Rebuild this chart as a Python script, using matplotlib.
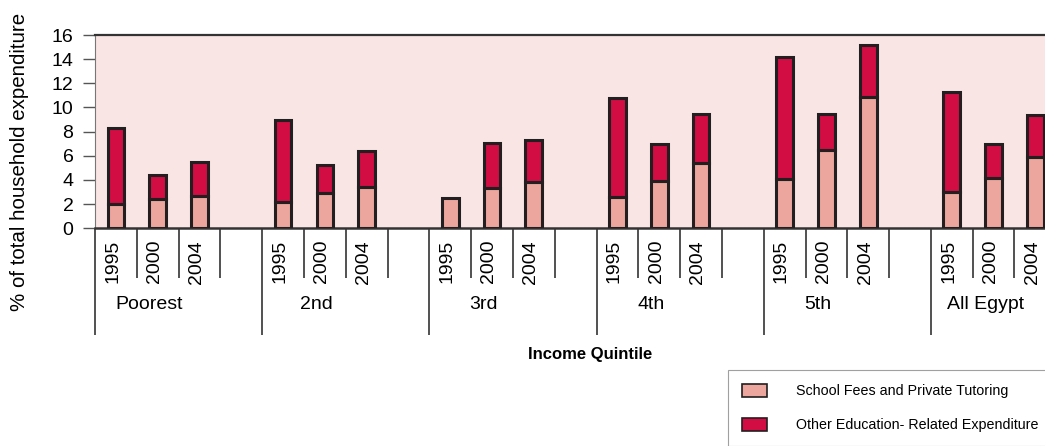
import matplotlib.pyplot as plt
from matplotlib.patches import Patch
from matplotlib.transforms import blended_transform_factory

plt.rcParams['font.family'] = ['Liberation Sans', 'DejaVu Sans']

quintiles = ['Poorest', '2nd', '3rd', '4th', '5th', 'All Egypt']
years = ['1995', '2000', '2004']

# % of total household expenditure, by quintile and year
fees = [
	[2.0, 2.4, 2.7],
	[2.2, 2.9, 3.4],
	[2.5, 3.3, 3.8],
	[2.6, 3.9, 5.4],
	[4.1, 6.5, 10.9],
	[3.0, 4.2, 5.9],
]
other = [
	[6.3, 2.0, 2.8],
	[6.8, 2.3, 3.0],
	[0.0, 3.8, 3.5],
	[8.2, 3.1, 4.1],
	[10.1, 3.0, 4.3],
	[8.3, 2.8, 3.5],
]

FEES_COL = '#eca69e'
OTHER_COL = '#d20d43'
EDGE = '#231f20'
SLOTS = 4  # three years plus an empty gap per quintile


def main() -> None:
	fig = plt.figure(figsize=(10.45, 4.46), dpi=100)
	ax = fig.add_axes([95 / 1045, 1 - 228.3 / 446, 1 - 95 / 1045, (228.3 - 35) / 446])
	ax.set_facecolor('#f9e5e3')

	for g in range(len(quintiles)):
		for i in range(len(years)):
			x = g * SLOTS + i + 0.5
			ax.bar(x, fees[g][i], width=0.4, color=FEES_COL, edgecolor=EDGE, linewidth=2.2, zorder=3)
			if other[g][i] > 0:
				ax.bar(x, other[g][i], bottom=fees[g][i], width=0.4, color=OTHER_COL,
					edgecolor=EDGE, linewidth=2.2, zorder=3)

	ax.set_yticks(range(0, 17, 2))
	ax.tick_params(axis='y', length=8.5, width=1, color='#555555', pad=7, labelsize=14)

	# year dividers as minor ticks, quintile dividers as long major ticks
	ax.set_xticks([g * SLOTS for g in range(len(quintiles))])
	ax.set_xticks([k for k in range(len(quintiles) * SLOTS) if k % SLOTS], minor=True)
	ax.set_xticklabels([])
	ax.tick_params(axis='x', which='major', length=77, width=1.2, color='#333333')
	ax.tick_params(axis='x', which='minor', length=36, width=1.2, color='#333333')
	ax.set_xlim(0, 22.73)
	ax.set_ylim(0, 16)

	ax.spines['right'].set_visible(False)
	ax.spines['top'].set_linewidth(1.6)
	ax.spines['top'].set_color('#333333')
	ax.spines['bottom'].set_linewidth(1.8)
	ax.spines['bottom'].set_color('#333333')
	ax.spines['left'].set_linewidth(0.8)
	ax.spines['left'].set_color('#777777')

	trans = blended_transform_factory(ax.transData, ax.transAxes)
	for g, name in enumerate(quintiles):
		for i, yr in enumerate(years):
			ax.text(g * SLOTS + i + 0.22, -0.06, yr, rotation=90, ha='left', va='top',
				fontsize=14, transform=trans)
		ax.text(g * SLOTS + 1.3, -0.395, name, ha='center', va='center', fontsize=14, transform=trans)

	fig.text(590 / 1045, 1 - 355 / 446, 'Income Quintile', ha='center', va='center',
		fontsize=12, fontweight='bold')
	fig.text(20 / 1045, 1 - 162 / 446, '% of total household expenditure', rotation=90,
		ha='center', va='center', fontsize=14.8)

	handles = [
		Patch(facecolor=FEES_COL, edgecolor=EDGE, linewidth=1.2, label='School Fees and Private Tutoring'),
		Patch(facecolor=OTHER_COL, edgecolor=EDGE, linewidth=1.2, label='Other Education- Related Expenditure'),
	]
	leg = fig.legend(handles=handles, loc='upper left', bbox_to_anchor=(728 / 1045, 1 - 370 / 446),
		fontsize=10.3, frameon=True, fancybox=False, edgecolor='#888888', handlelength=1.8,
		handleheight=1.1, handletextpad=2.0, labelspacing=1.35, borderpad=0.95, borderaxespad=0)
	leg.get_frame().set_linewidth(0.8)

	plt.savefig('out.png')
	plt.close()


if __name__ == '__main__':
	main()
